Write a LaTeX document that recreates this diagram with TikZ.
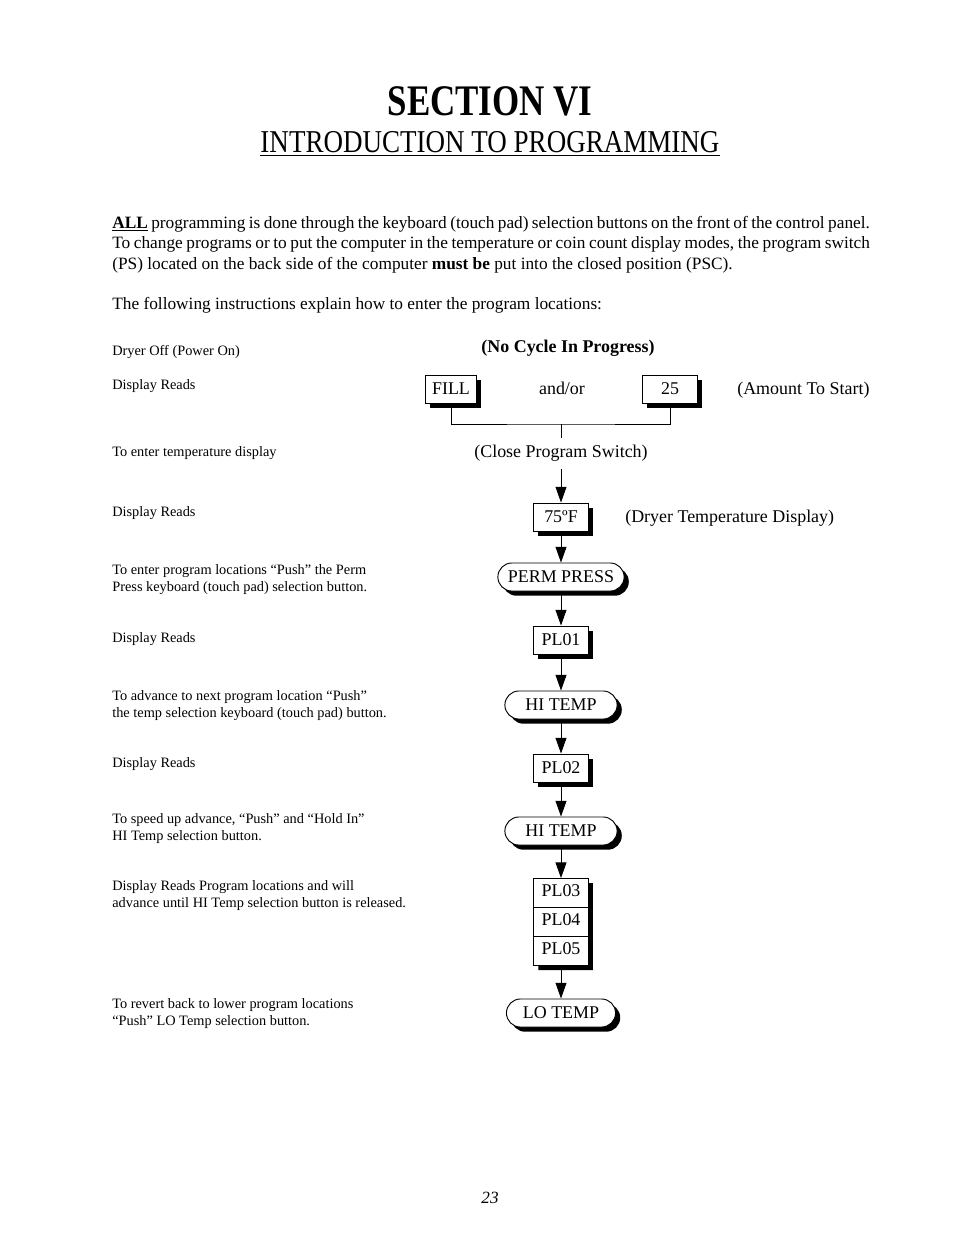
\documentclass[tikz,border=0pt]{standalone}
\usepackage{fontspec}
\setmainfont{Liberation Serif}
\usepackage{graphicx}
\usetikzlibrary{arrows.meta,shadows,shapes.multipart}

\tikzset{
    dispbox/.style={draw, fill=white, line width=0.6pt, minimum width=35pt,
        minimum height=18pt, inner sep=0pt, font=\fontsize{11.5}{12}\selectfont,
        drop shadow={shadow xshift=3pt, shadow yshift=-3pt, fill=black, opacity=1}},
    keypill/.style={dispbox, rounded corners=9pt},
    flow/.style={-{Triangle[length=10pt,width=7pt]}, line width=0.6pt},
    note/.style={anchor=base west, inner sep=0pt, font=\fontsize{9.2}{10}\selectfont},
    body/.style={anchor=base west, inner sep=0pt, font=\fontsize{11.1}{13}\selectfont},
    label/.style={anchor=base, inner sep=0pt, font=\fontsize{11.5}{13}\selectfont},
}

\begin{document}
\begin{tikzpicture}[x=0.6415pt, y=-0.6415pt]
    \useasboundingbox (0,0) rectangle (954,1235);
    \fill[white] (0,0) rectangle (954,1235);

    % heading
    \node[anchor=base, inner sep=0pt] (title) at (490,115)
        {\scalebox{0.8}[1]{\fontsize{28}{30}\selectfont\bfseries SECTION VI}};
    \node[anchor=base, inner sep=0pt] (subtitle) at (490,152)
        {\scalebox{0.85}[1]{\fontsize{20.4}{22}\selectfont INTRODUCTION TO PROGRAMMING}};
    \draw[line width=1.1pt] ([yshift=-2.2pt]subtitle.base west) -- ([yshift=-2.2pt]subtitle.base east);

    % introduction
    \node[body] (line1) at (112,228) {\makebox[486pt][s]{\textbf{\underline{ALL}} programming is done through the keyboard (touch pad) selection buttons on the front of the control panel.}};
    \node[body] (line2) at (112,248) {\makebox[486pt][s]{To change programs or to put the computer in the temperature or coin count display modes, the program switch}};
    \node[body] (line3) at (112,269) {(PS) located on the back side of the computer \textbf{must be} put into the closed position (PSC).};
    \node[body] (line4) at (112,309) {The following instructions explain how to enter the program locations:};

    % left column
    \node[note] (n1) at (112,355) {Dryer Off (Power On)};
    \node[note] (n2) at (112,389) {Display Reads};
    \node[note] (n3) at (112,456) {To enter temperature display};
    \node[note] (n4) at (112,516) {Display Reads};
    \node[note] (n5) at (112,574) {To enter program locations “Push” the Perm};
    \node[note] (n5b) at (112,591) {Press keyboard (touch pad) selection button.};
    \node[note] (n6) at (112,642) {Display Reads};
    \node[note] (n7) at (112,700) {To advance to next program location “Push”};
    \node[note] (n7b) at (112,717) {the temp selection keyboard (touch pad) button.};
    \node[note] (n8) at (112,767) {Display Reads};
    \node[note] (n9) at (112,823) {To speed up advance, “Push” and “Hold In”};
    \node[note] (n9b) at (112,840) {HI Temp selection button.};
    \node[note] (n10) at (112,890) {Display Reads Program locations and will};
    \node[note] (n10b) at (112,907) {advance until HI Temp selection button is released.};
    \node[note] (n11) at (112,1008) {To revert back to lower program locations};
    \node[note] (n11b) at (112,1025) {“Push” LO Temp selection button.};

    % flow
    \node[label, font=\fontsize{11.5}{13}\selectfont\bfseries] (nocycle) at (568,352) {(No Cycle In Progress)};
    \node[dispbox, minimum width=33pt] (fill) at (451,389) {FILL};
    \node[label] (andor) at (562,394) {and/or};
    \node[dispbox] (count) at (670,389) {25};
    \node[label, anchor=base west] (amount) at (737,394) {(Amount To Start)};
    \coordinate (join) at (561,424);
    \coordinate (tick) at (561,438);
    \draw[line width=0.6pt] (fill.south) |- (join) -| (count.south);
    \draw[line width=0.6pt] (join) -- (tick);
    \node[label, anchor=center, inner sep=5pt] (close) at (561,453) {(Close Program Switch)};

    \node[dispbox] (temp) at (561,517) {75ºF};
    \node[label, anchor=base west] (tempnote) at (625,522) {(Dryer Temperature Display)};
    \node[keypill, minimum width=81pt] (perm) at (561,577) {PERM PRESS};
    \node[dispbox] (pl1) at (561,640) {PL01};
    \node[keypill, minimum width=72pt] (hi1) at (561,705) {HI TEMP};
    \node[dispbox] (pl2) at (561,768) {PL02};
    \node[keypill, minimum width=72pt] (hi2) at (561,831) {HI TEMP};
    \node[dispbox, rectangle split, rectangle split parts=3, inner xsep=0pt, inner ysep=3pt,
        minimum height=0pt] (stack) at (561,922)
        {\strut PL03\nodepart{two}\strut PL04\nodepart{three}\strut PL05};
    \node[keypill, minimum width=70pt] (lo) at (561,1013) {LO TEMP};

    \draw[flow] (close) -- (temp);
    \draw[flow] (temp) -- (perm);
    \draw[flow] (perm) -- (pl1);
    \draw[flow] (pl1) -- (hi1);
    \draw[flow] (hi1) -- (pl2);
    \draw[flow] (pl2) -- (hi2);
    \draw[flow] (hi2) -- (stack);
    \draw[flow] (stack) -- (lo);

    \node[anchor=base, inner sep=0pt, font=\fontsize{11}{12}\selectfont\itshape] (pagenum) at (490,1203) {23};
\end{tikzpicture}
\end{document}
